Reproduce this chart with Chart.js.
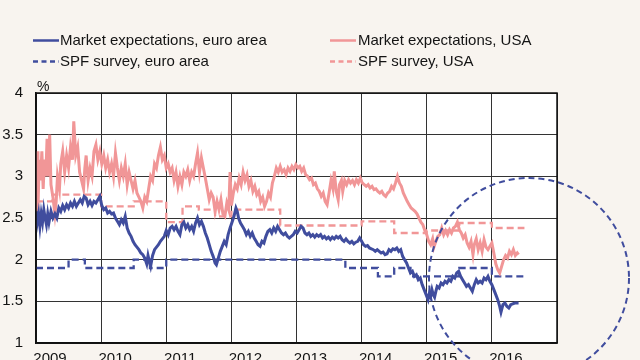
<!DOCTYPE html>
<html>
<head>
<meta charset="utf-8">
<script src="https://cdn.jsdelivr.net/npm/chart.js@4.4.1/dist/chart.umd.min.js"></script>
<style>
html,body{margin:0;padding:0;width:640px;height:360px;overflow:hidden;background:#f8f4ef;}
#wrap{position:absolute;left:0;top:0;width:640px;height:380px;}
.lg{position:absolute;font-family:"Liberation Sans",Arial,sans-serif;font-size:15px;color:#141414;white-space:nowrap;line-height:16px;}
.lg svg{position:absolute;left:0;top:0;}
.lg span{position:absolute;top:0;}
</style>
</head>
<body>
<div id="wrap"><canvas id="c" width="640" height="380"></canvas></div>
<div class="lg" style="left:33px;top:32px;width:300px;height:16px;">
  <svg width="28" height="16"><line x1="0" y1="8.5" x2="26" y2="8.5" stroke="#404d9e" stroke-width="2.5"/></svg>
  <span style="left:27px">Market expectations, euro area</span>
</div>
<div class="lg" style="left:330px;top:32px;width:300px;height:16px;">
  <svg width="28" height="16"><line x1="0" y1="8.5" x2="26" y2="8.5" stroke="#f19697" stroke-width="2.5"/></svg>
  <span style="left:28px">Market expectations, USA</span>
</div>
<div class="lg" style="left:33px;top:53px;width:300px;height:16px;">
  <svg width="28" height="16"><line x1="0" y1="8.5" x2="26" y2="8.5" stroke="#404d9e" stroke-width="2.5" stroke-dasharray="5 3.5"/></svg>
  <span style="left:27px">SPF survey, euro area</span>
</div>
<div class="lg" style="left:330px;top:53px;width:300px;height:16px;">
  <svg width="28" height="16"><line x1="0" y1="8.5" x2="26" y2="8.5" stroke="#f19697" stroke-width="2.5" stroke-dasharray="5 3.5"/></svg>
  <span style="left:28px">SPF survey, USA</span>
</div>
<script>
// ---- data ----
const yearTicks = [2009, 2010, 2011, 2012, 2013, 2014, 2015, 2016, 2017];
const valueTicks = [1, 1.5, 2, 2.5, 3, 3.5, 4];

const usMarketX = [2009.00,2009.01,2009.02,2009.03,2009.05,2009.07,2009.09,2009.11,2009.13,2009.15,2009.17,2009.19,2009.21,2009.23,2009.26,2009.29,2009.31,2009.33,2009.36,2009.38,2009.41,2009.44,2009.47,2009.50,2009.53,2009.56,2009.58,2009.61,2009.64,2009.67,2009.70,2009.73,2009.75,2009.77,2009.80,2009.83,2009.86,2009.89,2009.92,2009.95,2009.98,2010.01,2010.04,2010.07,2010.10,2010.13,2010.16,2010.19,2010.22,2010.25,2010.28,2010.31,2010.34,2010.37,2010.40,2010.43,2010.46,2010.49,2010.52,2010.55,2010.58,2010.61,2010.64,2010.67,2010.70,2010.73,2010.76,2010.79,2010.82,2010.85,2010.88,2010.91,2010.94,2010.97,2011.00,2011.03,2011.06,2011.09,2011.12,2011.15,2011.18,2011.21,2011.24,2011.27,2011.30,2011.33,2011.36,2011.39,2011.42,2011.45,2011.48,2011.51,2011.54,2011.57,2011.60,2011.63,2011.66,2011.69,2011.72,2011.75,2011.78,2011.81,2011.84,2011.87,2011.90,2011.93,2011.96,2011.98,2012.00,2012.03,2012.06,2012.09,2012.12,2012.15,2012.18,2012.21,2012.24,2012.27,2012.30,2012.33,2012.36,2012.39,2012.42,2012.45,2012.48,2012.51,2012.54,2012.57,2012.60,2012.63,2012.66,2012.69,2012.72,2012.75,2012.78,2012.81,2012.84,2012.87,2012.90,2012.93,2012.96,2012.99,2013.02,2013.05,2013.08,2013.11,2013.14,2013.17,2013.20,2013.23,2013.26,2013.29,2013.32,2013.35,2013.38,2013.41,2013.44,2013.47,2013.50,2013.53,2013.56,2013.58,2013.61,2013.64,2013.66,2013.69,2013.71,2013.74,2013.77,2013.80,2013.83,2013.86,2013.89,2013.92,2013.95,2013.98,2014.01,2014.04,2014.07,2014.10,2014.13,2014.16,2014.19,2014.22,2014.25,2014.28,2014.31,2014.34,2014.37,2014.40,2014.43,2014.46,2014.49,2014.52,2014.55,2014.58,2014.61,2014.64,2014.67,2014.70,2014.73,2014.76,2014.79,2014.82,2014.85,2014.88,2014.91,2014.94,2014.97,2015.00,2015.03,2015.06,2015.09,2015.11,2015.14,2015.17,2015.20,2015.23,2015.26,2015.29,2015.32,2015.35,2015.38,2015.41,2015.44,2015.47,2015.50,2015.53,2015.56,2015.59,2015.62,2015.65,2015.68,2015.71,2015.73,2015.76,2015.79,2015.82,2015.85,2015.88,2015.91,2015.94,2015.97,2016.00,2016.03,2016.06,2016.09,2016.12,2016.15,2016.18,2016.21,2016.24,2016.27,2016.30,2016.33,2016.36,2016.39,2016.41];
const usMarketY = [3.25,2.40,3.30,2.60,3.20,2.95,3.30,2.85,3.20,3.00,3.45,3.00,3.50,2.90,2.75,2.55,2.70,3.00,2.85,3.15,3.30,3.05,3.25,3.10,3.35,3.20,3.66,3.25,3.35,3.05,2.95,2.85,3.10,3.25,2.95,3.10,3.00,3.30,3.38,3.20,3.30,3.15,3.25,3.10,3.20,3.05,3.15,3.00,3.28,3.10,2.95,3.10,3.00,3.15,2.90,3.05,2.95,2.85,2.95,2.80,2.75,2.70,2.62,2.75,2.70,2.85,3.00,2.95,3.15,3.10,3.25,3.35,3.20,3.25,3.10,3.15,3.05,3.10,2.95,3.05,2.88,3.00,2.90,3.05,3.00,3.08,2.95,3.05,3.00,3.15,3.28,3.05,3.22,3.10,2.98,2.85,2.72,2.80,2.75,2.58,2.70,2.60,2.72,2.55,2.52,2.68,2.60,3.05,2.65,2.80,2.90,2.85,2.98,2.90,3.05,2.95,3.02,2.88,2.95,2.82,2.88,2.78,2.82,2.70,2.75,2.64,2.70,2.80,2.75,2.92,3.00,3.10,3.05,3.12,3.05,3.08,3.02,3.10,3.06,3.12,3.08,3.14,3.10,3.12,3.06,3.10,3.02,3.00,2.96,2.98,2.90,2.92,2.85,2.82,2.76,2.80,2.70,2.66,2.80,2.95,2.85,3.06,2.82,2.72,2.90,2.95,2.82,2.95,2.90,2.96,2.92,2.95,2.90,2.96,2.92,2.98,2.92,2.90,2.88,2.90,2.86,2.88,2.84,2.85,2.82,2.80,2.82,2.78,2.76,2.80,2.82,2.88,2.85,2.92,3.00,2.92,2.88,2.80,2.75,2.70,2.66,2.62,2.60,2.58,2.55,2.50,2.45,2.42,2.35,2.30,2.22,2.18,2.25,2.15,2.22,2.28,2.30,2.38,2.30,2.35,2.30,2.36,2.32,2.38,2.40,2.45,2.36,2.32,2.26,2.30,2.20,2.15,2.22,2.06,2.18,2.25,2.12,2.20,2.10,2.24,2.15,2.12,2.16,2.20,2.08,1.95,1.88,1.84,1.92,2.00,2.05,2.02,2.10,2.06,2.12,2.05,2.08,2.06];

const euMarketX = [2009.00,2009.02,2009.04,2009.06,2009.08,2009.10,2009.12,2009.14,2009.16,2009.18,2009.20,2009.23,2009.26,2009.29,2009.32,2009.35,2009.38,2009.41,2009.44,2009.47,2009.50,2009.53,2009.56,2009.59,2009.62,2009.65,2009.68,2009.71,2009.74,2009.77,2009.80,2009.83,2009.86,2009.89,2009.92,2009.95,2009.98,2010.01,2010.04,2010.07,2010.10,2010.13,2010.16,2010.19,2010.22,2010.25,2010.28,2010.31,2010.34,2010.37,2010.40,2010.43,2010.46,2010.49,2010.52,2010.55,2010.58,2010.61,2010.64,2010.67,2010.70,2010.72,2010.74,2010.76,2010.79,2010.82,2010.85,2010.88,2010.91,2010.94,2010.97,2011.00,2011.03,2011.06,2011.09,2011.12,2011.15,2011.18,2011.21,2011.24,2011.27,2011.30,2011.33,2011.36,2011.39,2011.42,2011.45,2011.48,2011.51,2011.54,2011.57,2011.60,2011.63,2011.66,2011.69,2011.72,2011.75,2011.77,2011.80,2011.83,2011.86,2011.89,2011.92,2011.95,2011.98,2012.01,2012.04,2012.07,2012.09,2012.11,2012.14,2012.17,2012.20,2012.23,2012.26,2012.29,2012.32,2012.35,2012.38,2012.41,2012.44,2012.47,2012.50,2012.53,2012.56,2012.59,2012.62,2012.65,2012.68,2012.71,2012.74,2012.77,2012.80,2012.83,2012.86,2012.89,2012.92,2012.95,2012.98,2013.01,2013.04,2013.07,2013.10,2013.13,2013.16,2013.19,2013.22,2013.25,2013.28,2013.31,2013.34,2013.37,2013.40,2013.43,2013.46,2013.49,2013.52,2013.55,2013.58,2013.61,2013.64,2013.67,2013.70,2013.73,2013.76,2013.79,2013.82,2013.85,2013.88,2013.91,2013.94,2013.97,2014.00,2014.03,2014.06,2014.09,2014.12,2014.15,2014.18,2014.21,2014.24,2014.27,2014.30,2014.33,2014.36,2014.39,2014.42,2014.45,2014.48,2014.51,2014.54,2014.57,2014.60,2014.63,2014.66,2014.69,2014.72,2014.75,2014.78,2014.81,2014.84,2014.87,2014.90,2014.93,2014.96,2014.99,2015.02,2015.04,2015.06,2015.08,2015.10,2015.12,2015.14,2015.16,2015.19,2015.22,2015.25,2015.28,2015.31,2015.34,2015.37,2015.40,2015.43,2015.46,2015.49,2015.52,2015.55,2015.58,2015.61,2015.64,2015.67,2015.70,2015.73,2015.76,2015.79,2015.82,2015.85,2015.88,2015.91,2015.94,2015.97,2016.00,2016.03,2016.06,2016.09,2016.12,2016.14,2016.17,2016.20,2016.23,2016.26,2016.29,2016.32,2016.35,2016.41];
const euMarketY = [2.58,2.45,2.55,2.40,2.55,2.45,2.60,2.50,2.42,2.55,2.45,2.58,2.50,2.55,2.50,2.62,2.58,2.65,2.60,2.66,2.62,2.68,2.64,2.70,2.64,2.68,2.72,2.68,2.76,2.74,2.66,2.70,2.65,2.70,2.68,2.72,2.76,2.65,2.60,2.62,2.56,2.58,2.55,2.56,2.50,2.46,2.42,2.48,2.44,2.52,2.38,2.32,2.28,2.22,2.18,2.15,2.12,2.08,2.06,2.02,1.95,2.05,1.98,1.92,2.05,2.12,2.15,2.18,2.22,2.25,2.28,2.35,2.30,2.38,2.40,2.36,2.40,2.34,2.30,2.42,2.45,2.38,2.42,2.36,2.40,2.34,2.44,2.50,2.42,2.46,2.40,2.32,2.26,2.18,2.10,2.04,1.96,1.94,2.02,2.10,2.16,2.22,2.18,2.30,2.38,2.45,2.52,2.62,2.58,2.50,2.44,2.40,2.36,2.30,2.34,2.28,2.32,2.26,2.22,2.18,2.16,2.22,2.20,2.28,2.34,2.36,2.32,2.38,2.34,2.40,2.36,2.32,2.30,2.32,2.28,2.26,2.28,2.30,2.34,2.32,2.36,2.40,2.38,2.32,2.30,2.32,2.28,2.30,2.27,2.30,2.28,2.30,2.26,2.28,2.25,2.27,2.24,2.27,2.25,2.28,2.26,2.28,2.24,2.22,2.25,2.22,2.20,2.22,2.19,2.21,2.22,2.26,2.22,2.18,2.16,2.17,2.14,2.13,2.12,2.10,2.12,2.10,2.08,2.09,2.06,2.07,2.12,2.10,2.13,2.12,2.14,2.10,2.12,2.04,2.00,1.96,1.90,1.84,1.86,1.80,1.82,1.76,1.78,1.70,1.64,1.58,1.52,1.60,1.56,1.64,1.58,1.55,1.62,1.68,1.66,1.72,1.70,1.74,1.72,1.76,1.74,1.80,1.78,1.84,1.86,1.80,1.76,1.72,1.68,1.70,1.66,1.62,1.70,1.76,1.72,1.74,1.72,1.78,1.76,1.80,1.74,1.70,1.64,1.58,1.52,1.44,1.37,1.46,1.48,1.44,1.42,1.46,1.47,1.48,1.48];

const spfQuarters = [2009.00,2009.25,2009.50,2009.75,2010.00,2010.25,2010.50,2010.75,2011.00,2011.25,2011.50,2011.75,2012.00,2012.25,2012.50,2012.75,2013.00,2013.25,2013.50,2013.75,2014.00,2014.25,2014.50,2014.75,2015.00,2015.25,2015.50,2015.75,2016.00,2016.25,2016.50];
const spfEuro = [1.9,1.9,2.0,1.9,1.9,1.9,2.0,1.9,2.0,2.0,2.0,2.0,2.0,2.0,2.0,2.0,2.0,2.0,2.0,1.9,1.9,1.8,1.9,1.8,1.8,1.8,1.9,1.9,1.8,1.8,1.8];
const spfUSA = [2.7,2.78,2.78,2.78,2.64,2.64,2.7,2.7,2.45,2.64,2.6,2.52,2.6,2.6,2.6,2.41,2.41,2.41,2.41,2.41,2.46,2.46,2.32,2.32,2.35,2.35,2.44,2.44,2.38,2.38,2.38];

const BLUE = '#404d9e';
const PINK = '#f19697';

const pts = (xs, ys) => xs.map((x, i) => ({x: x, y: ys[i]}));

const decor = {
  id: 'decor',
  beforeDraw(chart) {
    const {ctx, chartArea: a} = chart;
    ctx.save();
    ctx.fillStyle = '#ffffff';
    ctx.fillRect(a.left, a.top, a.right - a.left, a.bottom - a.top);
    ctx.restore();
  },
  afterDraw(chart) {
    const {ctx, chartArea: a, scales} = chart;
    ctx.save();
    ctx.strokeStyle = '#111';
    ctx.lineWidth = 1.5;
    ctx.strokeRect(a.left, a.top, a.right - a.left, a.bottom - a.top);
    ctx.fillStyle = '#141414';
    ctx.font = '14px "Liberation Sans", Arial, sans-serif';
    ctx.textAlign = 'left';
    ctx.textBaseline = 'alphabetic';
    ctx.fillText('%', a.left + 1, a.top - 2);
    // highlight circle
    const cx = scales.x.getPixelForValue(2016.57);
    const cy = scales.y.getPixelForValue(1.78);
    ctx.beginPath();
    ctx.setLineDash([6, 4]);
    ctx.lineWidth = 2;
    ctx.strokeStyle = BLUE;
    ctx.arc(cx, cy, 100, 0, Math.PI * 2);
    ctx.stroke();
    ctx.restore();
  }
};

const FONT = {family: '"Liberation Sans", Arial, sans-serif', size: 15};

new Chart(document.getElementById('c'), {
  type: 'line',
  data: {
    datasets: [
      {label: 'Market expectations, euro area', data: pts(euMarketX, euMarketY), borderColor: BLUE, borderWidth: 3, pointRadius: 0, tension: 0, order: 1},
      {label: 'Market expectations, USA', data: pts(usMarketX, usMarketY), borderColor: PINK, borderWidth: 3, pointRadius: 0, tension: 0, order: 2},
      {label: 'SPF survey, euro area', data: pts(spfQuarters, spfEuro), borderColor: BLUE, borderWidth: 2.3, borderDash: [7, 4], pointRadius: 0, stepped: true, order: 3},
      {label: 'SPF survey, USA', data: pts(spfQuarters, spfUSA), borderColor: PINK, borderWidth: 2.3, borderDash: [7, 4], pointRadius: 0, stepped: true, order: 4}
    ]
  },
  options: {
    responsive: false,
    animation: false,
    devicePixelRatio: 1,
    layout: {padding: {top: 93, right: 83, left: 0, bottom: 0}},
    plugins: {legend: {display: false}, tooltip: {enabled: false}},
    scales: {
      x: {
        type: 'linear', min: 2009, max: 2017,
        afterFit(s) { s.height = 37; },
        afterBuildTicks(s) { s.ticks = yearTicks.map(v => ({value: v})); },
        grid: {color: '#333333', lineWidth: 1, drawTicks: false},
        border: {color: '#111', width: 1.5},
        ticks: {
          padding: 7, labelOffset: 14, maxRotation: 0, autoSkip: false,
          color: '#141414', font: FONT,
          callback: (v) => v === 2017 ? '' : String(v)
        }
      },
      y: {
        type: 'linear', min: 1, max: 4,
        afterFit(s) { s.width = 36; },
        afterBuildTicks(s) { s.ticks = valueTicks.map(v => ({value: v})); },
        grid: {color: '#333333', lineWidth: 1, drawTicks: false},
        border: {color: '#111', width: 1.5},
        ticks: {
          padding: 13, color: '#141414', font: FONT,
          callback: (v) => String(v)
        }
      }
    }
  },
  plugins: [decor]
});
</script>
</body>
</html>
